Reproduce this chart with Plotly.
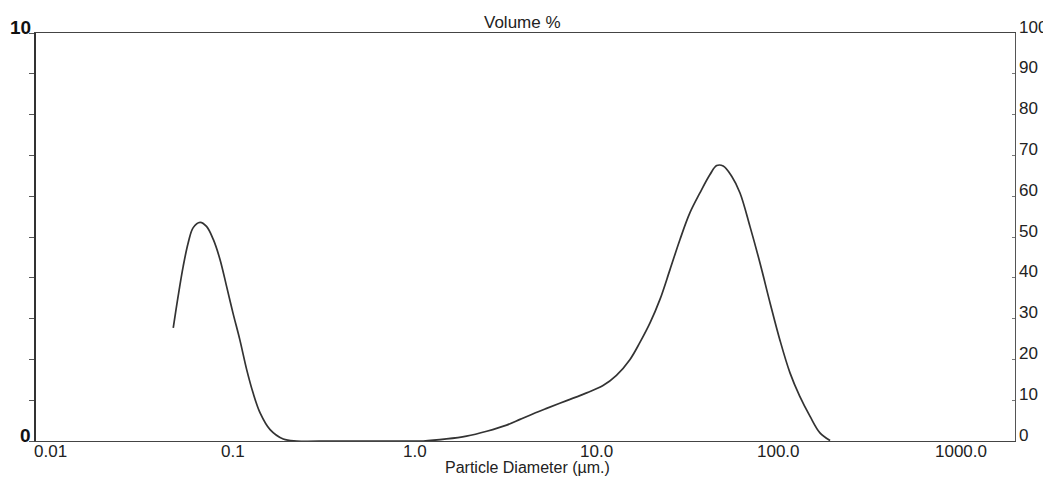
import math
import plotly.graph_objects as go

# Particle size distribution (volume %)
diameter_um = [0.047, 0.050, 0.0533, 0.0568, 0.0605, 0.066, 0.0716, 0.078, 0.0849, 0.0923,
               0.100, 0.109, 0.119, 0.129, 0.141, 0.160, 0.189, 0.224, 0.35, 0.6, 0.9,
               1.11, 1.49, 1.92, 2.48, 3.19, 3.78, 4.47, 5.29, 6.82, 8.78, 10.8, 12.8,
               15.2, 17.2, 19.6, 22.2, 25.2, 28.6, 32.4, 36.8, 41.8, 45.5, 49.4, 55.0,
               61.1, 69.3, 78.6, 89.3, 101, 115, 130, 148, 168, 191]
volume_pct = [2.77, 3.55, 4.28, 4.86, 5.23, 5.36, 5.26, 4.94, 4.45, 3.79,
              3.14, 2.49, 1.75, 1.18, 0.69, 0.28, 0.05, 0.0, 0.0, 0.0, 0.0,
              0.0, 0.05, 0.12, 0.24, 0.39, 0.53, 0.67, 0.80, 0.99, 1.18, 1.36, 1.61,
              2.00, 2.41, 2.90, 3.47, 4.20, 4.94, 5.59, 6.08, 6.53, 6.75, 6.74, 6.49,
              6.08, 5.26, 4.37, 3.39, 2.49, 1.67, 1.10, 0.61, 0.20, 0.01]

x_tick_vals = [0.01, 0.1, 1, 10, 100, 1000]
x_tick_text = ["0.01", "0.1", "1.0", "10.0", "100.0", "1000.0"]
left_tick_vals = list(range(0, 11))
left_label_vals = [0, 10]
right_tick_vals = list(range(0, 101, 10))

FONT = "Arial, Liberation Sans, sans-serif"
INK = "#222222"

# page body has an 8px margin: size the figure so it fits the 1051x481 window
W, H = 1043, 473
L, R, T, B = 28, 36, 25, 40
pw, ph = W - L - R, H - T - B


def px_to_paper(xw, yw):
    """window pixel -> paper coords"""
    xf, yf = xw - 8, yw - 8
    return (xf - L) / pw, ((H - B) - yf) / ph


fig = go.Figure()
fig.add_trace(go.Scatter(
    x=diameter_um, y=volume_pct, mode="lines",
    line=dict(color="#333333", width=1.7, shape="spline", smoothing=1.0),
    showlegend=False, hoverinfo="skip"))
fig.add_trace(go.Scatter(x=[1], y=[0], yaxis="y2", mode="markers",
                         marker=dict(opacity=0), showlegend=False, hoverinfo="skip"))

annotations = []
# right axis labels
for v in right_tick_vals:
    annotations.append(dict(x=1, xref="paper", y=v, yref="y2", text=str(v),
                            showarrow=False, xanchor="left", yanchor="middle",
                            xshift=3, yshift=6, borderpad=0,
                            font=dict(family=FONT, size=17, color=INK)))
# left axis labels
for v in left_label_vals:
    annotations.append(dict(x=0, xref="paper", y=v, yref="y", text=str(v),
                            showarrow=False, xanchor="right", yanchor="middle",
                            xshift=-4, yshift=6, borderpad=0,
                            font=dict(family=FONT, size=19, color="#111111", weight="bold")))
# x tick labels
for v, t in zip(x_tick_vals, x_tick_text):
    annotations.append(dict(x=math.log10(v), xref="x", y=0, yref="paper", text=t,
                            showarrow=False, xanchor="center", yanchor="top",
                            yshift=0, borderpad=0,
                            font=dict(family=FONT, size=17, color=INK)))
vx, vy = px_to_paper(522, 22)
annotations.append(dict(x=vx, y=vy, xref="paper", yref="paper", text="Volume %",
                        showarrow=False, xanchor="center", yanchor="middle", borderpad=0,
                        font=dict(family=FONT, size=17, color=INK)))
tx, ty = px_to_paper(527, 467)
annotations.append(dict(x=tx, y=ty, xref="paper", yref="paper", text="Particle Diameter (µm.)",
                        showarrow=False, xanchor="center", yanchor="middle", borderpad=0,
                        font=dict(family=FONT, size=16, color=INK)))

fig.update_layout(
    width=W, height=H,
    margin=dict(l=L, r=R, t=T, b=B, pad=0),
    paper_bgcolor="white", plot_bgcolor="white",
    font=dict(family=FONT, size=16, color=INK),
    annotations=annotations,
    xaxis=dict(type="log", range=[-2.082, 3.297],
               tickvals=x_tick_vals, showticklabels=False,
               showgrid=False, zeroline=False,
               showline=True, linecolor="#444444", linewidth=1.3, mirror=True,
               ticks=""),
    yaxis=dict(range=[0, 10], tickvals=left_tick_vals, showticklabels=False,
               showgrid=False, zeroline=False,
               showline=True, linecolor="#333333", linewidth=1.5,
               ticks="outside", ticklen=5, tickcolor="#555555"),
    yaxis2=dict(range=[0, 100], overlaying="y", side="right",
                tickvals=right_tick_vals, showticklabels=False,
                showgrid=False, zeroline=False,
                showline=True, linecolor="#555555", linewidth=1.2,
                ticks="inside", ticklen=3, tickcolor="#777777"),
)

fig.write_html("out.html")
